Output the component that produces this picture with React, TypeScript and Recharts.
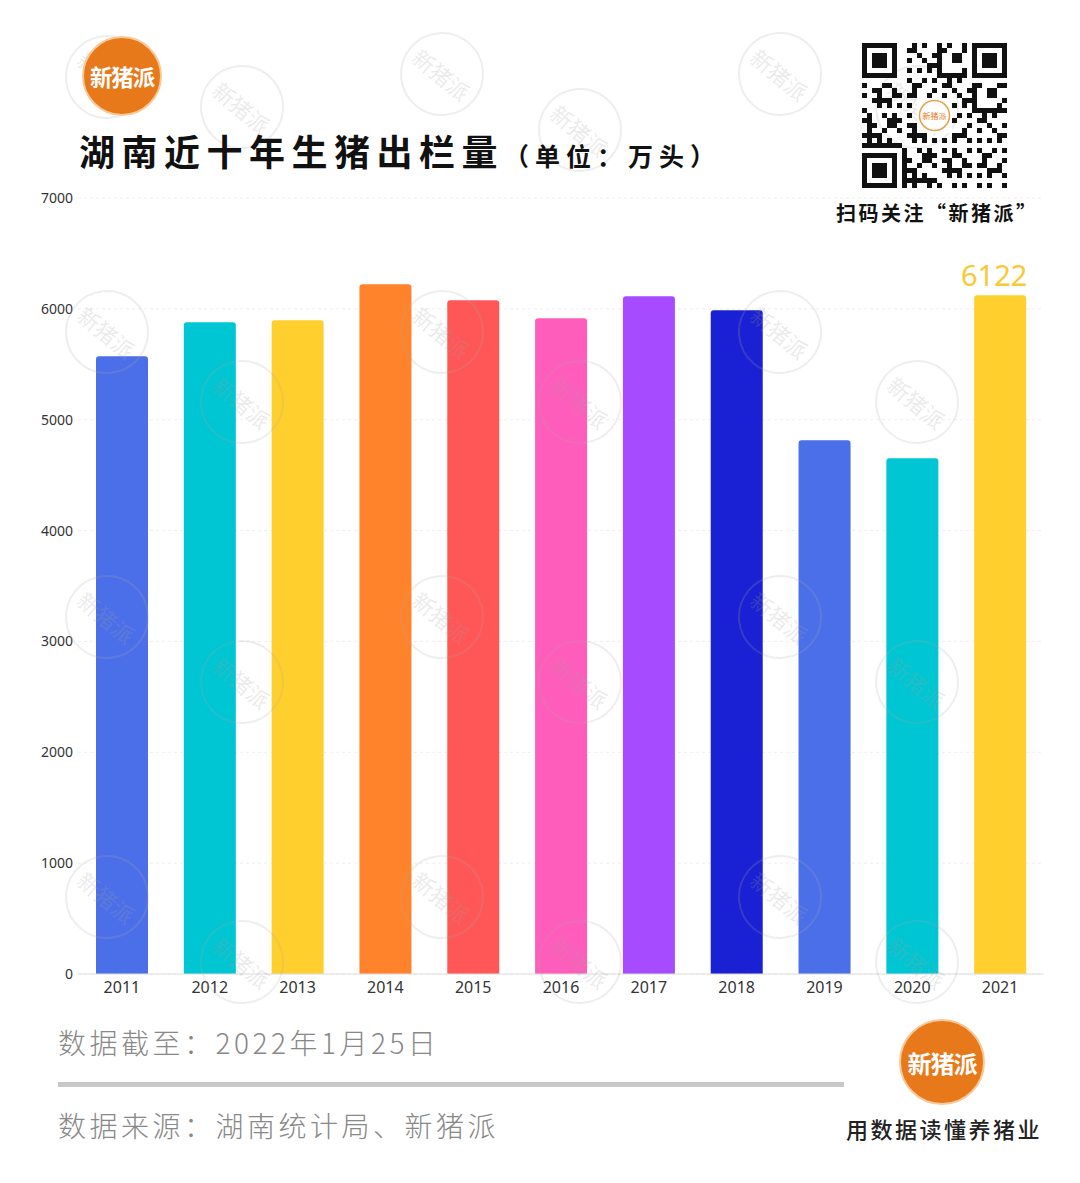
import { BarChart, Bar, XAxis, YAxis, CartesianGrid, Cell, LabelList } from 'recharts';

const years = ['2011', '2012', '2013', '2014', '2015', '2016', '2017', '2018', '2019', '2020', '2021'];
const output = [5572, 5879, 5897, 6222, 6078, 5915, 6114, 5987, 4815, 4653, 6122];
const barColors = ['#4B6FE8', '#00C5D2', '#FFCF2D', '#FF832A', '#FF5757', '#FF5DBB', '#A64BFF', '#1A20D3', '#4B6FE8', '#00C5D2', '#FFCF2D'];
const yTicks = [0, 1000, 2000, 3000, 4000, 5000, 6000, 7000];

const chartData = years.map((year, i) => ({ year, value: output[i] }));

const cjk = '"Noto Sans CJK SC", "Noto Sans", sans-serif';

const Logo = ({ x, y, r }: { x: number; y: number; r: number }) => (
  <div
    style={{
      position: 'absolute',
      left: x - r,
      top: y - r,
      width: r * 2,
      height: r * 2,
      borderRadius: '50%',
      background: '#E8791A',
      border: '2px solid #F6C99A',
      boxSizing: 'border-box',
      color: '#fff',
      fontFamily: cjk,
      fontWeight: 700,
      fontSize: r * 0.56,
      display: 'flex',
      alignItems: 'center',
      justifyContent: 'center',
      letterSpacing: -1,
    }}
  >
    新猪派
  </div>
);

const watermarks = [
  [105, 75], [240, 105], [440, 72], [578, 128], [778, 72], [915, 105],
  [105, 330], [240, 400], [440, 330], [578, 400], [778, 330], [915, 400],
  [105, 615], [240, 680], [440, 615], [578, 680], [778, 615], [915, 680],
  [105, 895], [240, 960], [440, 895], [578, 960], [778, 895], [915, 960],
];

const Watermark = ({ x, y }: { x: number; y: number }) => (
  <div
    style={{
      position: 'absolute',
      left: x - 40,
      top: y - 40,
      width: 80,
      height: 80,
      borderRadius: '50%',
      border: '2px solid rgba(170,170,170,0.2)',
      color: 'rgba(160,160,160,0.22)',
      fontFamily: cjk,
      fontSize: 22,
      display: 'flex',
      alignItems: 'center',
      justifyContent: 'center',
      transform: 'rotate(40deg)',
      pointerEvents: 'none',
    }}
  >
    新猪派
  </div>
);

const QrCode = () => {
  const n = 29;
  const cell = 5;
  const cells: JSX.Element[] = [];
  const inFinder = (r: number, c: number) =>
    (r < 8 && c < 8) || (r < 8 && c >= n - 8) || (r >= n - 8 && c < 8);
  for (let r = 0; r < n; r++) {
    for (let c = 0; c < n; c++) {
      if (inFinder(r, c)) continue;
      if ((r * 7 + c * 13 + ((r * c) % 7) * 3) % 5 < 2) {
        cells.push(<rect key={`${r}-${c}`} x={c * cell} y={r * cell} width={cell} height={cell} fill="#111" />);
      }
    }
  }
  const finder = (fx: number, fy: number) => (
    <g key={`f${fx}${fy}`}>
      <rect x={fx} y={fy} width={35} height={35} fill="#111" />
      <rect x={fx + 5} y={fy + 5} width={25} height={25} fill="#fff" />
      <rect x={fx + 10} y={fy + 10} width={15} height={15} fill="#111" />
    </g>
  );
  return (
    <svg width={145} height={145} style={{ position: 'absolute', left: 862, top: 43 }}>
      {cells}
      {finder(0, 0)}
      {finder((n - 7) * cell, 0)}
      {finder(0, (n - 7) * cell)}
      <rect x={55} y={55} width={35} height={35} fill="#fff" />
      <circle cx={72.5} cy={72.5} r={15} fill="#fff" stroke="#E8A24A" strokeWidth={1.5} />
      <text x={72.5} y={76} textAnchor="middle" fontSize={8} fill="#E8791A" fontFamily={cjk}>新猪派</text>
    </svg>
  );
};

const renderTopLabel = (props: any) => {
  const { x, y, width, value, index } = props;
  if (index !== years.length - 1) return null;
  return (
    <text
      x={Number(x) + Number(width) / 2 - 6}
      y={Number(y) - 9}
      textAnchor="middle"
      fill="#F9C933"
      fontSize={29}
      fontFamily='"Noto Sans", sans-serif'
    >
      {value}
    </text>
  );
};

const App = () => {
  return (
    <div style={{ position: 'absolute', left: 0, top: 0, width: 1080, height: 1183, background: '#fff', overflow: 'hidden' }}>
      <div style={{ position: 'absolute', left: 0, top: 0 }}>
        <BarChart
          width={1080}
          height={1010}
          data={chartData}
          margin={{ top: 198, right: 36, left: 0, bottom: 6 }}
          barCategoryGap={0}
        >
          <CartesianGrid vertical={false} stroke="#eeeeee" strokeDasharray="3 3" />
          <XAxis
            dataKey="year"
            tickLine={false}
            axisLine={{ stroke: '#dddddd' }}
            height={30}
            tick={{ fill: '#333', fontSize: 16, fontFamily: '"Noto Sans", sans-serif' }}
            interval={0}
          />
          <YAxis
            domain={[0, 7000]}
            ticks={yTicks}
            width={78}
            tickLine={false}
            axisLine={false}
            tickSize={3}
            tickMargin={2}
            tick={{ fill: '#333', fontSize: 14, fontFamily: '"Noto Sans", sans-serif' }}
          />
          <Bar dataKey="value" barSize={52} radius={[3, 3, 0, 0]} isAnimationActive={false}>
            {chartData.map((d, i) => (
              <Cell key={d.year} fill={barColors[i]} />
            ))}
            <LabelList dataKey="value" content={renderTopLabel} />
          </Bar>
        </BarChart>
      </div>

      {watermarks.map(([x, y], i) => (
        <Watermark key={i} x={x} y={y} />
      ))}

      <Logo x={122} y={76} r={40} />

      <div
        style={{
          position: 'absolute',
          left: 79,
          top: 132,
          fontFamily: cjk,
          fontWeight: 700,
          fontSize: 36,
          lineHeight: 1,
          letterSpacing: 6.5,
          color: '#111',
          whiteSpace: 'nowrap',
        }}
      >
        湖南近十年生猪出栏量
        <span style={{ fontSize: 25, letterSpacing: 6 }}>（单位：万头）</span>
      </div>

      <QrCode />
      <div
        style={{
          position: 'absolute',
          left: 836,
          top: 203,
          fontFamily: cjk,
          fontWeight: 700,
          fontSize: 20,
          lineHeight: 1,
          letterSpacing: 2.5,
          color: '#111',
          whiteSpace: 'nowrap',
        }}
      >
        扫码关注“新猪派”
      </div>

      <div
        style={{
          position: 'absolute',
          left: 58,
          top: 1026,
          fontFamily: cjk,
          fontWeight: 300,
          fontSize: 28,
          lineHeight: 1.2,
          letterSpacing: 3.5,
          color: '#888',
          whiteSpace: 'nowrap',
        }}
      >
        数据截至：2022年1月25日
      </div>
      <div style={{ position: 'absolute', left: 58, top: 1082, width: 786, height: 5, background: '#c8c8c8' }} />
      <div
        style={{
          position: 'absolute',
          left: 58,
          top: 1109,
          fontFamily: cjk,
          fontWeight: 300,
          fontSize: 28,
          lineHeight: 1.2,
          letterSpacing: 3.5,
          color: '#888',
          whiteSpace: 'nowrap',
        }}
      >
        数据来源：湖南统计局、新猪派
      </div>

      <Logo x={942} y={1062} r={43} />
      <div
        style={{
          position: 'absolute',
          left: 846,
          top: 1116,
          fontFamily: cjk,
          fontWeight: 500,
          fontSize: 22,
          lineHeight: 1.1,
          letterSpacing: 2.5,
          color: '#222',
          whiteSpace: 'nowrap',
        }}
      >
        用数据读懂养猪业
      </div>
    </div>
  );
};

export default App;
